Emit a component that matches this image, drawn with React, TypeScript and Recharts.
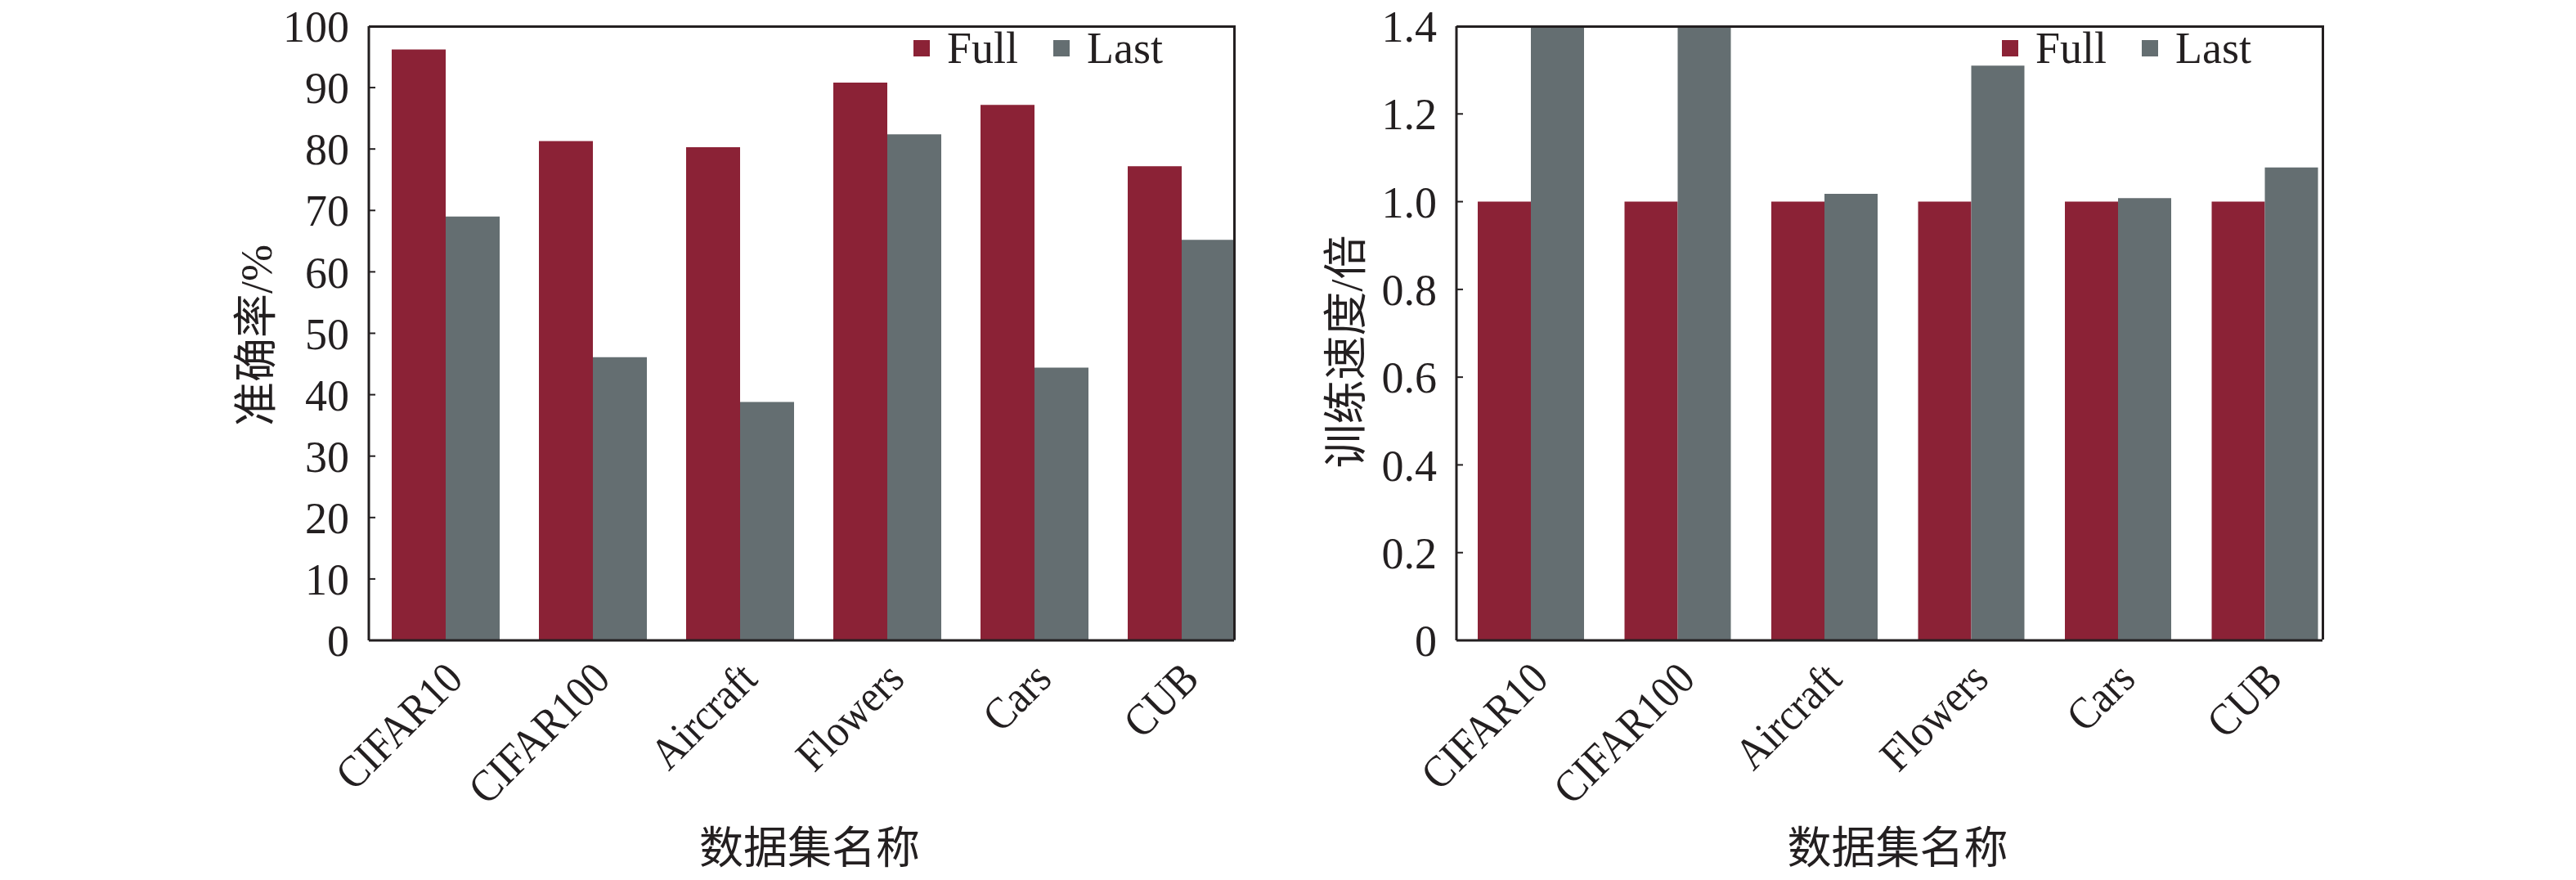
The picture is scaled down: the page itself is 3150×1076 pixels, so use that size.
import React from 'react';
import { BarChart, Bar, XAxis, YAxis, Legend } from 'recharts';

// dataset names along the x axis
const datasets = ['CIFAR10', 'CIFAR100', 'Aircraft', 'Flowers', 'Cars', 'CUB'];

// left panel: accuracy (%)
const accFull = [96.2, 81.3, 80.3, 90.8, 87.2, 77.2];
const accLast = [69.0, 46.1, 38.8, 82.4, 44.4, 65.2];
const accTicks = [0, 10, 20, 30, 40, 50, 60, 70, 80, 90, 100];

// right panel: training speed (x)
const speedFull = [1.0, 1.0, 1.0, 1.0, 1.0, 1.0];
const speedLast = [1.4, 1.4, 1.018, 1.31, 1.008, 1.078];
const speedTicks = [0, 0.2, 0.4, 0.6, 0.8, 1.0, 1.2, 1.4];

const FULL = '#8B2236';
const LAST = '#646E71';
const INK = '#231F20';
const SERIF = "'Liberation Serif', 'Times New Roman', 'Noto Sans CJK SC', serif";

const accData = datasets.map((name, i) => ({ name, full: accFull[i], last: accLast[i] }));
const speedData = datasets.map((name, i) => ({ name, full: speedFull[i], last: speedLast[i] }));

// rotated category label, slightly condensed like the source figure
const XTick = ({ x, y, payload }: any) => {
  const tx = x + 24;
  const ty = y + 50;
  return (
    <text
      x={tx}
      y={ty}
      transform={`rotate(-45 ${tx} ${ty}) translate(${tx} ${ty}) scale(0.9 1) translate(${-tx} ${-ty})`}
      textAnchor="end"
      fontFamily={SERIF}
      fontSize={55}
      fill={INK}
    >
      {payload.value}
    </text>
  );
};

const LegendContent = ({ payload }: any) => (
  <div
    style={{
      display: 'flex',
      alignItems: 'center',
      fontFamily: SERIF,
      fontSize: 54,
      lineHeight: '54px',
      color: INK,
      whiteSpace: 'nowrap',
    }}
  >
    {(payload || []).map((p: any, i: number) => (
      <div key={p.value} style={{ display: 'flex', alignItems: 'center', marginLeft: i ? 43 : 0 }}>
        <span style={{ display: 'inline-block', width: 20, height: 20, background: p.color }} />
        <span style={{ marginLeft: 21 }}>{p.value}</span>
      </div>
    ))}
  </div>
);

interface PanelProps {
  data: Array<{ name: string; full: number; last: number }>;
  left: number;
  width: number;
  plotLeft: number;
  plotRight: number;
  pad: { left: number; right: number };
  gap: number;
  domain: [number, number];
  ticks: number[];
  fmt: (v: number) => string;
  yTitle: string;
  yTitleX: number;
  yTitleY: number;
  legendLeft: number;
}

const PLOT_TOP = 32;
const PLOT_BOTTOM = 783;
const HEIGHT = 1076;

const Panel: React.FC<PanelProps> = (p) => {
  const plotW = p.plotRight - p.plotLeft;
  const cx = p.plotLeft + plotW / 2 + 10;
  return (
    <div style={{ position: 'absolute', left: p.left, top: 0, width: p.width, height: HEIGHT }}>
      <BarChart
        width={p.width}
        height={HEIGHT}
        data={p.data}
        margin={{ top: PLOT_TOP, right: p.width - p.plotRight, bottom: 0, left: 0 }}
        barCategoryGap={p.gap}
        barGap={0}
      >
        <XAxis
          dataKey="name"
          interval={0}
          height={HEIGHT - PLOT_BOTTOM}
          padding={p.pad}
          tickLine={false}
          tickSize={0}
          tickMargin={0}
          axisLine={{ stroke: INK, strokeWidth: 3 }}
          tick={<XTick />}
          label={{
            content: () => (
              <text
                x={cx}
                y={1038}
                dominantBaseline="central"
                textAnchor="middle"
                fontFamily={SERIF}
                fontSize={54}
                fill={INK}
              >
                数据集名称
              </text>
            ),
          }}
        />
        <YAxis
          width={p.plotLeft}
          domain={p.domain}
          ticks={p.ticks}
          allowDataOverflow
          interval={0}
          tickFormatter={p.fmt}
          tickSize={-8}
          tickMargin={32}
          tickLine={{ stroke: INK, strokeWidth: 2 }}
          axisLine={{ stroke: INK, strokeWidth: 3 }}
          tick={{ fontFamily: SERIF, fontSize: 54, fill: INK }}
          label={{
            content: () => (
              <text
                x={p.yTitleX}
                y={p.yTitleY}
                transform={`rotate(-90 ${p.yTitleX} ${p.yTitleY})`}
                dominantBaseline="central"
                textAnchor="middle"
                fontFamily={SERIF}
                fontSize={54}
                fill={INK}
              >
                {p.yTitle}
              </text>
            ),
          }}
        />
        <Legend
          layout="vertical"
          align="center"
          verticalAlign="middle"
          content={<LegendContent />}
          wrapperStyle={{ top: PLOT_TOP, left: p.legendLeft, width: 'auto', height: 'auto' }}
        />
        <Bar dataKey="full" name="Full" fill={FULL} isAnimationActive={false} />
        <Bar dataKey="last" name="Last" fill={LAST} isAnimationActive={false} />
      </BarChart>
      {/* closing top and right edges of the frame */}
      <div
        style={{
          position: 'absolute',
          left: p.plotLeft,
          top: PLOT_TOP - 1.5,
          width: plotW + 1.5,
          height: PLOT_BOTTOM - PLOT_TOP,
          borderTop: `3px solid ${INK}`,
          borderRight: `3px solid ${INK}`,
          boxSizing: 'border-box',
          pointerEvents: 'none',
        }}
      />
    </div>
  );
};

export default function App() {
  return (
    <div style={{ position: 'absolute', left: 0, top: 0, width: 3150, height: HEIGHT, background: '#fff', overflow: 'hidden' }}>
      <Panel
        data={accData}
        left={0}
        width={1560}
        plotLeft={451}
        plotRight={1509}
        pad={{ left: 3.5, right: -25.5 }}
        gap={24.5}
        domain={[0, 100]}
        ticks={accTicks}
        fmt={(v) => String(v)}
        yTitle="准确率/%"
        yTitleX={314}
        yTitleY={410}
        legendLeft={1117}
      />
      <Panel
        data={speedData}
        left={1560}
        width={1590}
        plotLeft={221}
        plotRight={1280}
        pad={{ left: 1, right: -19 }}
        gap={25}
        domain={[0, 1.4]}
        ticks={speedTicks}
        fmt={(v) => (v === 0 ? '0' : v.toFixed(1))}
        yTitle="训练速度/倍"
        yTitleX={87}
        yTitleY={430}
        legendLeft={888}
      />
    </div>
  );
}
